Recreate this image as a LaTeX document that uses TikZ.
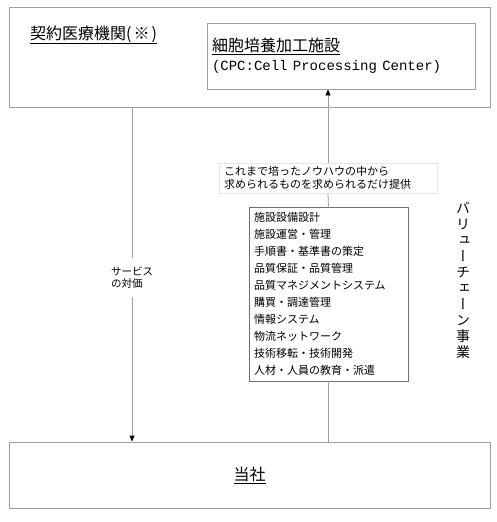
\documentclass[tikz,border=0pt]{standalone}
\usepackage{fontspec}
\setmainfont{Noto Sans CJK JP}
\newfontfamily\tatefont[RawFeature=+vert]{Noto Sans CJK JP}
\newfontfamily\cpcfont{Liberation Mono}
\usetikzlibrary{arrows.meta}
\definecolor{linegray}{HTML}{A0A0A0}
\definecolor{listgray}{HTML}{707070}
\definecolor{notegray}{HTML}{E6E6E6}

\begin{document}
\begin{tikzpicture}[x=1pt,y=-1pt]
    \tikzstyle{frame} = [draw=linegray,line width=0.8pt,inner sep=0pt]
    \tikzstyle{flow} = [draw=linegray,line width=0.8pt]
    \tikzstyle{tip} = [-{Triangle[length=6pt,width=5pt,black]}]

    \useasboundingbox (0,0) rectangle (496,522);

    \node[frame,minimum width=481pt,minimum height=100pt] (clinic) at (249.5,57){};
    \node[anchor=west,inner sep=3pt,font=\fontsize{16}{18}\selectfont] (clinicname) at (27,35){\underline{契約医療機関(\hspace{2pt}※\hspace{2pt})}};

    \node[frame,minimum width=268pt,minimum height=66pt,text width=258pt,align=left,
          font=\fontsize{16}{18}\selectfont] (cpc) at (341,56)
          {\underline{細胞培養加工施設}\\[1pt]{\cpcfont\fontsize{14}{16}\selectfont (CPC:Cell Processing Center)}};

    \node[frame,minimum width=481pt,minimum height=66pt,font=\fontsize{16}{18}\selectfont] (company) at (249.5,475){\underline{当社}};

    \node[draw=notegray,fill=white,line width=0.8pt,minimum width=218pt,minimum height=30pt,
          text width=208pt,align=left,inner sep=0pt,font=\fontsize{11}{12.5}\selectfont] (knowhow) at (328,178)
          {これまで培ったノウハウの中から\\求められるものを求められるだけ提供};

    \node[draw=listgray,fill=white,line width=0.8pt,minimum width=159pt,minimum height=174pt,
          text width=149pt,align=left,inner sep=0pt,font=\fontsize{11}{17}\selectfont] (services) at (328.5,294)
          {施設設備設計\\施設運営・管理\\手順書・基準書の策定\\品質保証・品質管理\\品質マネジメントシステム\\
           購買・調達管理\\情報システム\\物流ネットワーク\\技術移転・技術開発\\人材・人員の教育・派遣};

    \node[align=center,inner sep=0pt,font=\tatefont\fontsize{14}{16}\selectfont] (valuechain) at (463,280)
          {バ\\リ\\ュ\\ー\\チ\\ェ\\ー\\ン\\事\\業};

    \node[fill=white,align=left,inner sep=0pt,minimum height=39pt,font=\fontsize{10.5}{12}\selectfont] (payment) at (132,277.5)
          {サービス\\の対価};

    \draw[flow] (clinic.south -| payment) -- (payment.north);
    \draw[flow,tip] (payment.south) -- (payment.south |- company.north);

    \draw[flow] (services.south |- company.north) -- (services.south);
    \draw[flow] (services.north) -- (knowhow.south);
    \draw[flow,tip] (knowhow.north) -- (knowhow.north |- cpc.south);

\end{tikzpicture}
\end{document}
